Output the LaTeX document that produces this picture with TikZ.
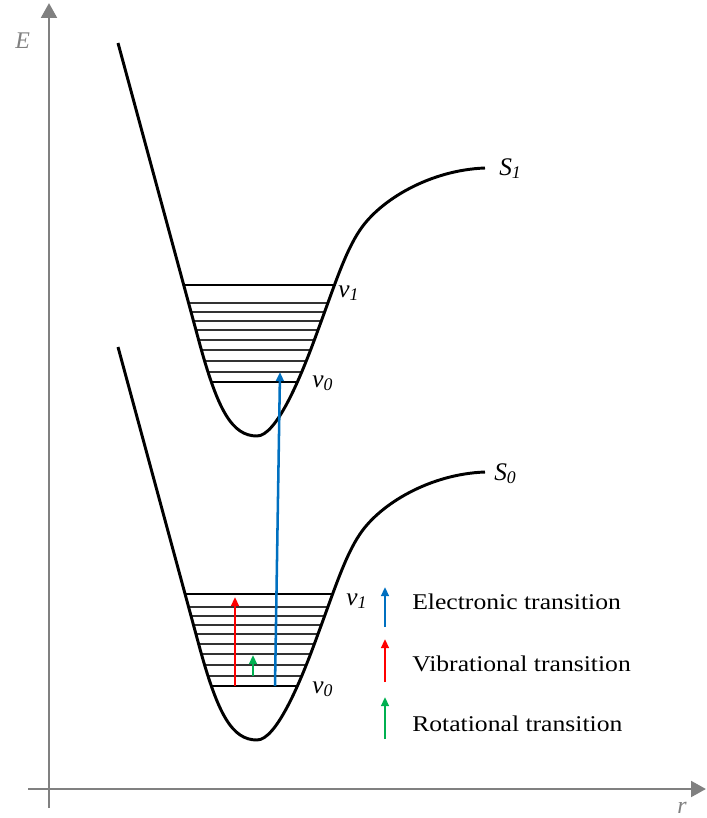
\documentclass[tikz,border=0pt]{standalone}
\usepackage{fontspec}
\setmainfont{Liberation Serif}
\usepackage{graphicx}
\usetikzlibrary{arrows.meta}
\definecolor{axgray}{RGB}{128,128,128}
\definecolor{elblue}{RGB}{0,112,192}
\definecolor{vbred}{RGB}{255,0,0}
\definecolor{rtgreen}{RGB}{0,176,80}
\newcommand{\wellpath}{(118,43) -- (200,345) .. controls (218,410) and (232,436) .. (257,436)
  .. controls (276,436) and (300,380) .. (318,330) .. controls (334,287) and (345,252) .. (360,230)
  .. controls (380,200) and (430,170) .. (485,168)}
\newcommand{\legtext}[1]{\scalebox{1.14}[1]{#1}}

\begin{document}
\begin{tikzpicture}[
  x=0.025cm, y=-0.025cm,
  ax/.style={axgray, line width=2.1pt, -{Triangle[length=10.5pt,width=11pt]}},
  pes/.style={line width=2.1pt, line join=round},
  lv/.style={line width=2pt},
  sub/.style={line width=0.9pt, black!80},
  ael/.style={elblue, line width=1.8pt, -{Triangle[length=6.5pt,width=5.5pt]}},
  avb/.style={vbred, line width=1.8pt, -{Triangle[length=6.5pt,width=5.5pt]}},
  art/.style={rtgreen, line width=1.8pt, -{Triangle[length=6.5pt,width=5.5pt]}},
  lbl/.style={font=\fontsize{18}{20}\selectfont\itshape, inner sep=0pt, anchor=base west},
  leg/.style={font=\fontsize{16}{18}\selectfont, inner sep=0pt, anchor=base west}
]
\useasboundingbox (0,0) rectangle (707,818);
\coordinate (ybot) at (49,808);
\coordinate (ytop) at (49,3);
\coordinate (xlft) at (28,789);
\coordinate (xrgt) at (706,789);
\draw[ax] (ybot) -- (ytop);
\draw[ax] (xlft) -- (xrgt);
\node[lbl, axgray, font=\fontsize{17}{19}\selectfont\itshape] (elab) at (15,48) {E};
\node[lbl, axgray, font=\fontsize{17}{19}\selectfont\itshape] (rlab) at (677,813) {r};
\foreach \dy/\vt in {0/285,304/290}{
  \begin{scope}[shift={(0,\dy)}]
    \begin{scope}
      \clip \wellpath -- cycle;
      \foreach \yy in {303,312,321,330,340,350,361,372}
        \draw[sub] (150,\yy) -- (360,\yy);
      \draw[lv] (150,\vt) -- (360,\vt);
      \draw[lv] (150,382) -- (360,382);
    \end{scope}
    \draw[pes] \wellpath;
  \end{scope}
}
\node[lbl] (sone) at (499,175) {S\textsubscript{1}};
\node[lbl] (szero) at (494,480) {S\textsubscript{0}};
\node[lbl] (uvone) at (338,297) {v\textsubscript{1}};
\node[lbl] (uvzero) at (312,387) {v\textsubscript{0}};
\node[lbl] (lvone) at (346,605) {v\textsubscript{1}};
\node[lbl] (lvzero) at (312,693) {v\textsubscript{0}};
\coordinate (el0) at (275,686);
\coordinate (el1) at (280,372);
\coordinate (vb0) at (235,686);
\coordinate (vb1) at (235,597);
\coordinate (rt0) at (253,676);
\coordinate (rt1) at (253,655);
\draw[ael] (el0) -- (el1);
\draw[avb] (vb0) -- (vb1);
\draw[art] (rt0) -- (rt1);
\coordinate (le0) at (385,627);
\coordinate (le1) at (385,587);
\coordinate (lv0) at (385,682);
\coordinate (lv1) at (385,639);
\coordinate (lr0) at (385,739);
\coordinate (lr1) at (385,697);
\draw[ael] (le0) -- (le1);
\draw[avb] (lv0) -- (lv1);
\draw[art] (lr0) -- (lr1);
\node[leg] (tel) at (412,609) {\legtext{Electronic transition}};
\node[leg] (tvb) at (412,671) {\legtext{Vibrational transition}};
\node[leg] (trt) at (412,731) {\legtext{Rotational transition}};
\end{tikzpicture}
\end{document}
